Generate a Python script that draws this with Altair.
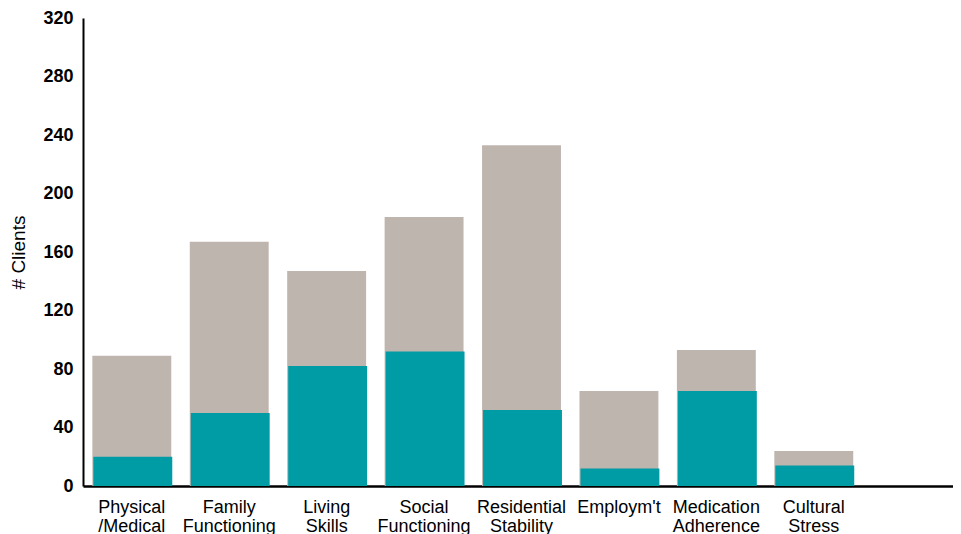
import altair as alt
import pandas as pd

categories = ["Physical|/Medical", "Family|Functioning", "Living|Skills", "Social|Functioning",
              "Residential|Stability", "Employm't", "Medication|Adherence", "Cultural|Stress"]
total_clients = [89, 167, 147, 184, 233, 65, 93, 24]
improved_clients = [20, 50, 82, 92, 52, 12, 65, 14]
y_ticks = [0, 40, 80, 120, 160, 200, 240, 280, 320]

domain = categories + ["_blank_"]

df = pd.DataFrame({"cat": categories, "total": total_clients, "improved": improved_clients})

x = alt.X("cat:N", scale=alt.Scale(domain=domain, paddingInner=0.19, paddingOuter=0.06, align=0.8),
          sort=None,
          axis=alt.Axis(title=None, labelAngle=0, labelFont="Liberation Sans", labelFontSize=18,
                        labelColor="black", labelPadding=12, ticks=False, domainColor="black",
                        domainWidth=2.5, labelLineHeight=19,
                        labelExpr="datum.label == '_blank_' ? '' : split(datum.label, '|')"))

yscale = alt.Scale(domain=[0, 320], nice=False)
yaxis = alt.Axis(title="# Clients", values=y_ticks, grid=False, ticks=False, domainColor="black",
                 domainWidth=2, labelFont="Liberation Sans", labelFontSize=18, labelFontWeight="bold",
                 labelColor="black", labelPadding=10, titleFont="Liberation Sans", titleFontSize=19,
                 titleFontWeight="normal", titleColor="black", titlePadding=14)

gray = alt.Chart(df).mark_bar(color="#BFB5AF").encode(
    x=x, y=alt.Y("total:Q", scale=yscale, axis=yaxis))
teal = alt.Chart(df).mark_bar(color="#009CA6", xOffset=1).encode(
    x=x, y=alt.Y("improved:Q", scale=yscale, axis=yaxis))

chart = alt.layer(gray, teal).properties(
    width=870, height=468,
    autosize=alt.AutoSizeParams(type="none"),
    padding={"left": 75, "top": 10, "right": 0, "bottom": 48},
).configure_view(stroke=None)

chart.save("out.html", embed_options={"renderer": "svg", "actions": False})
